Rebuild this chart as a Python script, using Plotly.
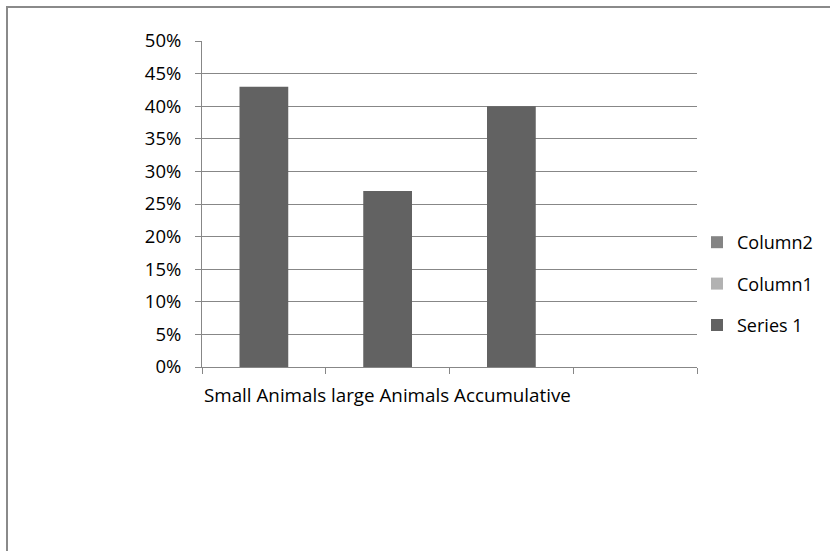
import plotly.graph_objects as go

categories = ["Small Animals", "large Animals", "Accumulative", ""]
series1 = [0.43, 0.27, 0.40, None]
column1 = [None, None, None, None]
column2 = [None, None, None, None]

FONT = "Open Sans"
FS = 18.5
grey_line = "#878787"

fig = go.Figure()
xs = list(range(len(categories)))
fig.add_trace(go.Bar(x=xs, y=column2, name="Column2", marker=dict(color="#848484", line=dict(width=0)),
                     legendgroup="c2"))
fig.add_trace(go.Bar(x=xs, y=column1, name="Column1", marker=dict(color="#b2b2b2", line=dict(width=0)),
                     legendgroup="c1"))
fig.add_trace(go.Bar(x=xs, y=series1, name="Series 1", marker=dict(color="#626262", line=dict(width=0)),
                     width=0.394, legendgroup="s1"))

L, R, T, B = 202, 133, 41, 184
W, H = 830, 551
pw, ph = W - L - R, H - T - B

def px2x(p):
    return (p - L) / pw

def py2y(p):
    return (H - B - p) / ph

fig.update_layout(
    width=W, height=H,
    margin=dict(l=L, r=R, t=T, b=B, pad=0),
    paper_bgcolor="white", plot_bgcolor="white",
    font=dict(family=FONT, size=FS, color="#000000"),
    barmode="overlay",
    showlegend=True,
    legend=dict(x=px2x(697), y=py2y(224), xanchor="left", yanchor="top",
                traceorder="grouped", tracegroupgap=15,
                font=dict(family=FONT, size=18), itemwidth=30,
                bgcolor="rgba(0,0,0,0)"),
    xaxis=dict(range=[-0.5, 3.5], tickvals=[-0.5, 0.5, 1.5, 2.5, 3.5], ticktext=["", "", "", "", ""],
               ticks="outside", ticklen=6, tickcolor=grey_line, showline=True, linecolor=grey_line,
               linewidth=1, showgrid=False, zeroline=False, fixedrange=True),
    yaxis=dict(range=[0, 0.5], dtick=0.05, tickformat=".0%", ticks="outside", ticklen=6,
               tickcolor=grey_line, showline=True, linecolor=grey_line, linewidth=1,
               showgrid=True, gridcolor=grey_line, gridwidth=1, zeroline=False,
               ticklabelstandoff=10, fixedrange=True),
    shapes=[
        dict(type="line", xref="paper", yref="paper", x0=px2x(7), x1=px2x(7), y0=py2y(7), y1=py2y(560),
             line=dict(color="#8a8a8a", width=2)),
        dict(type="line", xref="paper", yref="paper", x0=px2x(6), x1=px2x(840), y0=py2y(7), y1=py2y(7),
             line=dict(color="#8a8a8a", width=2)),
    ],
    annotations=[dict(text=" ".join(c for c in categories if c), xref="x", yref="paper",
                      x=-0.5, y=py2y(395), xanchor="left", yanchor="middle", showarrow=False,
                      font=dict(family=FONT, size=18.8))],
)

fig.write_html("out.html")
